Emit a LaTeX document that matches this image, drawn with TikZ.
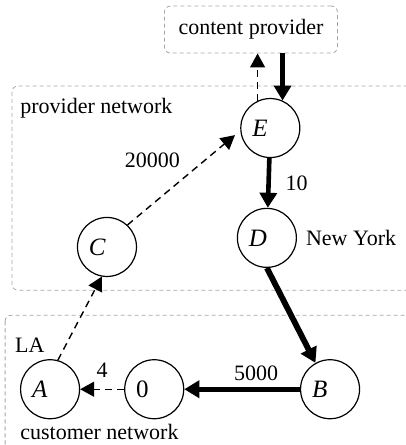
\documentclass[tikz,border=0pt]{standalone}
\usepackage{fontspec}
\setmainfont{Liberation Serif}
\usepackage{tikz}
\usetikzlibrary{arrows.meta,positioning}

\begin{document}
\begin{tikzpicture}[font=\fontsize{11}{13}\selectfont,
  state/.style={circle,draw,line width=0.6pt,minimum size=29.5pt,inner sep=0pt,
    text width=18pt,align=left,font=\fontsize{12.5}{14}\selectfont},
  region/.style={draw=black!35,dash pattern=on 2pt off 1.5pt,line width=0.4pt,rounded corners=3pt},
  tag/.style={inner sep=0pt,anchor=base west},
  dasharrow/.style={line width=0.7pt,dash pattern=on 3.5pt off 2.5pt,-{Triangle[length=7pt,width=7.5pt]}},
  heavy/.style={line width=2.3pt,-{Triangle[length=7.5pt,width=8.5pt]}}]
\useasboundingbox (0,0) rectangle (7.12,7.82);
\draw[region] (0.21,6.31) rectangle (7.6,2.72);
\draw[region] (0.09,2.28) rectangle (7.6,-0.3);
\node[region,minimum width=86.5pt,minimum height=23.5pt] (cp) at (4.41,7.30) {content provider};
\node[tag] (pn) at (0.35,5.83) {provider network};
\node[tag] (cn) at (0.35,0.09) {customer network};
\node[tag] (la) at (0.26,1.63) {LA};
\node[state] (E) at (4.75,5.57) {\textit{E}};
\node[state] (D) at (4.69,3.64) {\textit{D}};
\node[state] (C) at (1.88,3.48) {\textit{C}};
\node[state] (A) at (0.88,0.98) {\textit{A}};
\node[state] (zero) at (2.71,0.98) {0};
\node[state] (B) at (5.80,0.98) {\textit{B}};
\node[right=1pt of D] (ny) {New York};
\draw[dasharrow] (E.115) -- (E.115 |- cp.south);
\draw[heavy] (cp.south -| E.66) -- (E.66);
\draw[heavy] (E) -- node[right=4pt] {10} (D);
\draw[heavy,line width=2.9pt] (D.south) -- (B.119);
\draw[heavy] (B) -- node[above,pos=0.38] {5000} (zero);
\draw[dasharrow] (zero) -- node[above=2pt] {4} (A);
\draw[dasharrow] (A.75) -- (C.260);
\draw[dasharrow,shorten >=3.5pt] (C.47) -- node[above left,pos=0.53] {20000} (E.185);
\end{tikzpicture}
\end{document}
